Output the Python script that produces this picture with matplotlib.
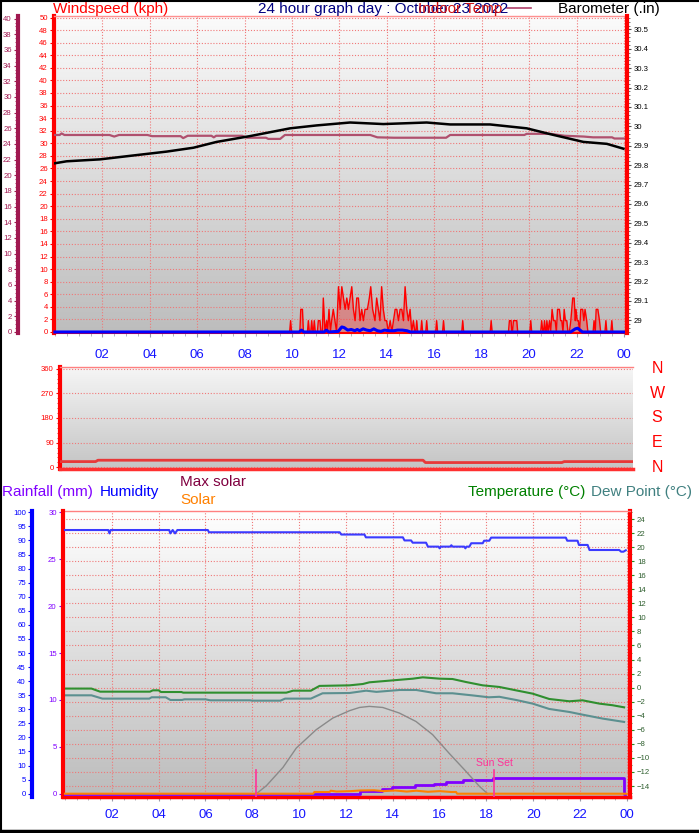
import numpy as np
import matplotlib
matplotlib.use('Agg')
import matplotlib.pyplot as plt
from matplotlib.lines import Line2D
from matplotlib.colors import LinearSegmentedColormap
from matplotlib.ticker import MultipleLocator

plt.rcParams['font.family'] = ['Liberation Sans', 'DejaVu Sans']

# ---------------- data ----------------
hour_ticks = [2, 4, 6, 8, 10, 12, 14, 16, 18, 20, 22, 24]
hour_labels = ['02', '04', '06', '08', '10', '12', '14', '16', '18', '20', '22', '00']

# wind gust (kph)
gust_h = [0, 9.90, 9.94, 9.98, 10.33, 10.37, 10.44, 10.48, 10.65, 10.69, 10.73, 10.79, 10.83, 10.87,
          10.90, 10.94, 10.98, 11.07, 11.11, 11.18, 11.22, 11.28, 11.32, 11.39, 11.46, 11.50, 11.56,
          11.62, 11.67, 11.74, 11.81, 11.88, 11.96, 12.03, 12.10, 12.17, 12.24, 12.31, 12.38, 12.45,
          12.52, 12.59, 12.66, 12.73, 12.80, 12.87, 12.94, 13.01, 13.08, 13.18, 13.26, 13.32, 13.40,
          13.50, 13.57, 13.64, 13.71, 13.78, 13.85, 13.92, 13.99, 14.06, 14.14, 14.21, 14.28, 14.35,
          14.42, 14.49, 14.56, 14.63, 14.70, 14.77, 14.84, 14.91, 14.98, 15.05, 15.12, 15.18, 15.22,
          15.26, 15.30, 15.43, 15.47, 15.51, 15.64, 15.68, 15.72, 16.06, 16.10, 16.14, 16.35, 16.39,
          16.43, 17.16, 17.20, 17.24, 18.36, 18.40, 18.44, 19.13, 19.17, 19.24, 19.27, 19.30, 19.34,
          19.41, 19.48, 19.52, 20.03, 20.07, 20.11, 20.49, 20.53, 20.58, 20.61, 20.65, 20.69, 20.72,
          20.75, 20.80, 20.86, 20.91, 20.97, 21.03, 21.10, 21.15, 21.20, 21.28, 21.33, 21.38, 21.43,
          21.48, 21.53, 21.59, 21.64, 21.70, 21.76, 21.84, 21.90, 21.95, 21.98, 22.03, 22.08, 22.13,
          22.18, 22.26, 22.31, 22.36, 22.43, 22.48, 22.70, 22.74, 22.79, 22.83, 22.90, 22.97, 23.02,
          23.20, 23.24, 23.28, 23.45, 23.49, 23.53, 24.05]
gust_kph = [0, 0, 1.8, 0, 0, 3.6, 3.6, 0, 0, 1.8, 0, 0, 1.8, 0,
            0, 1.8, 0, 0, 1.8, 1.8, 0, 0, 5.4, 0, 1.8, 0, 3.6,
            0, 1.8, 3.6, 1.8, 0, 7.2, 3.6, 7.2, 5.4, 3.6, 5.4, 3.6, 5.4,
            7.2, 3.6, 1.8, 5.4, 5.4, 1.8, 3.6, 1.8, 3.6, 3.6, 5.4, 7.2, 3.6,
            1.8, 5.4, 3.6, 1.8, 7.2, 3.6, 1.8, 1.8, 0, 1.8, 0, 1.8, 3.6,
            3.6, 1.8, 3.6, 3.6, 1.8, 7.2, 3.6, 1.8, 3.6, 0, 1.8, 0, 0,
            1.8, 0, 0, 1.8, 0, 0, 1.8, 0, 0, 1.8, 0, 0, 1.8,
            0, 0, 1.8, 0, 0, 1.8, 0, 0, 1.8, 1.8, 0, 0, 1.8,
            1.8, 1.8, 0, 0, 1.8, 0, 0, 1.8, 0, 0, 1.8, 0, 0,
            1.8, 0, 1.8, 0, 3.6, 1.8, 1.8, 0, 3.6, 3.6, 1.8, 1.8, 0,
            3.6, 1.8, 1.8, 0, 0, 1.8, 5.4, 5.4, 1.8, 3.6, 1.8, 1.8, 0,
            3.6, 3.6, 1.8, 3.6, 1.8, 0, 0, 1.8, 0, 3.6, 3.6, 1.8, 0,
            0, 1.8, 0, 0, 1.8, 0, 0]

# average wind (kph)
avg_h = [0, 10.30, 10.40, 10.50, 11.35, 11.45, 11.55, 11.95, 12.10, 12.20, 12.35, 12.50, 12.65,
         12.75, 12.85, 13.00, 13.15, 13.30, 13.45, 13.60, 13.75, 13.90, 14.10, 14.30, 14.45, 14.65,
         14.85, 15.00, 21.75, 21.95, 22.05, 22.25, 24.05]
avg_kph = [0, 0, 0.3, 0, 0, 0.3, 0, 0.1, 0.8, 0.7, 0.3, 0.4, 0.2,
           0.4, 0.2, 0.5, 0.3, 0.2, 0.5, 0.2, 0.1, 0.3, 0.2, 0.2, 0.3, 0.3,
           0.2, 0, 0, 0.5, 0.6, 0, 0]

# indoor temperature (deg C)
in_h = [0, 0.2, 0.28, 0.4, 2.3, 2.5, 2.7, 3.9, 4.1, 5.3, 5.41, 5.6, 6.6, 6.7, 6.8, 7.9, 8.1,
        8.9, 9.0, 9.5, 9.7, 12.45, 13.3, 13.6, 14.3, 16.5, 16.67, 19.8, 19.9, 20.9, 21.5, 22.3,
        22.7, 23.5, 23.6, 24.0]
in_temp = [25.15, 25.15, 25.35, 25.15, 25.15, 24.95, 25.15, 25.15, 25.0, 25.0, 24.75, 25.05, 25.05,
           24.85, 25.05, 25.05, 24.8, 24.8, 24.65, 24.65, 25.15, 25.15, 25.15, 24.85, 24.8, 24.8,
           25.15, 25.15, 25.3, 25.3, 25.05, 24.95, 24.85, 24.85, 24.7, 24.7]

# barometer (inHg)
baro_h = [0, 0.49, 1.9, 3.3, 4.71, 5.84, 6.82, 8.23, 9.92, 11.04, 12.45, 13.85, 15.68, 16.67,
          18.35, 19.9, 20.89, 22.29, 23.28, 23.98]
baro_in = [29.81, 29.82, 29.83, 29.85, 29.87, 29.89, 29.92, 29.95, 29.99, 30.005, 30.02, 30.012,
           30.02, 30.01, 30.01, 29.99, 29.96, 29.92, 29.91, 29.885]

# wind direction (deg)
wdir_h = [0, 1.45, 1.55, 15.25, 15.35, 21.1, 21.2, 24.1]
wdir_deg = [21, 21, 26, 26, 17.5, 17.5, 21, 21]
wdir_ticks = [0, 90, 180, 270, 360]
compass = ['N', 'E', 'S', 'W', 'N']

# humidity (%)
hum_h = [0, 1.85, 1.9, 1.95, 4.45, 4.5, 4.6, 4.7, 4.8, 6.1, 6.15, 11.73, 11.8, 12.79, 12.85,
         14.43, 14.5, 14.78, 14.85, 15.42, 15.5, 15.95, 16.0, 16.05, 16.45, 16.5, 16.55, 17.05,
         17.1, 17.15, 17.27, 17.35, 17.84, 17.9, 18.12, 18.2, 21.39, 21.45, 21.89, 21.95, 22.32,
         22.4, 23.67, 23.75, 23.85, 23.95]
humidity = [93.7, 93.7, 92.5, 93.7, 93.7, 92.5, 93.7, 92.5, 93.7, 93.7, 92.9, 92.9, 92.1, 92.1,
            91.1, 91.1, 90.0, 90.0, 89.2, 89.2, 87.8, 87.8, 87.2, 87.8, 87.8, 88.3, 87.8, 87.8,
            87.2, 87.8, 87.8, 89.0, 89.0, 89.9, 89.9, 91.0, 91.0, 89.9, 89.9, 88.4, 88.4,
            86.6, 86.6, 86.0, 86.0, 86.5]

# temperature / dew point (deg C)
temp_h = [0, 1.13, 1.5, 3.63, 3.75, 4.0, 4.1, 4.97, 5.05, 9.45, 9.6, 9.74, 10.5, 10.87, 12.15,
          12.72, 13.0, 13.86, 14.86, 15.28, 16.0, 16.55, 17.13, 17.84, 18.55, 19.26, 19.97, 20.68,
          21.54, 22.1, 22.82, 23.38, 23.88]
temp_c = [-0.13, -0.13, -0.57, -0.57, -0.38, -0.38, -0.62, -0.62, -0.71, -0.71, -0.57, -0.43,
          -0.43, 0.25, 0.33, 0.52, 0.76, 1.0, 1.28, 1.47, 1.28, 1.23, 0.8, 0.33, 0.1, -0.38, -0.85,
          -1.61, -1.94, -1.8, -2.27, -2.5, -2.8]
dew_h = [0, 1.13, 1.6, 3.6, 3.7, 4.3, 4.5, 5.0, 5.1, 6.0, 6.2, 7.9, 8.0, 9.2, 9.4, 10.5, 11.0,
         12.15, 12.86, 13.3, 14.3, 15.0, 15.85, 16.55, 17.4, 18.1, 18.55, 19.26, 19.97, 20.68,
         21.54, 22.1, 22.96, 23.88]
dew_c = [-1.09, -1.09, -1.56, -1.56, -1.37, -1.37, -1.75, -1.75, -1.66, -1.66, -1.8, -1.8, -1.85,
         -1.85, -1.56, -1.56, -0.8, -0.76, -0.43, -0.6, -0.33, -0.33, -0.8, -0.8, -1.1, -1.37,
         -1.3, -1.75, -2.27, -3.03, -3.46, -3.84, -4.4, -4.88]

# rainfall (mm, cumulative)
rain_h = [0, 12.58, 13.53, 13.97, 14.93, 15.74, 16.28, 16.99, 18.27, 23.88, 23.9]
rain_mm = [0, 0.25, 0.46, 0.71, 0.89, 1.06, 1.28, 1.45, 1.67, 0, 0]

# solar (W/m2)
maxsolar_h = [8.17, 8.6, 9.31, 9.88, 10.73, 11.44, 12.15, 12.58, 13.0, 13.57, 14.28, 14.99, 15.7,
              16.41, 17.13, 17.7, 18.05]
maxsolar_w = [0, 37, 122, 212, 297, 351, 385, 400, 405, 400, 374, 335, 274, 187, 103, 34, 0]
solar_h = [0, 10.6, 10.65, 11.3, 11.35, 11.6, 12.2, 12.6, 13.2, 13.6, 14.1, 14.6, 15.0, 15.5,
           16.0, 16.5, 16.7, 16.75, 24.0]
solar_w = [0, 0, 8, 8, 14, 10, 12, 15, 16, 12, 15, 10, 14, 9, 12, 8, 8, 0, 0]
sunrise_h = 8.14
sunset_h = 18.34

# ---------------- figure ----------------
W, H = 699, 833
PT = 72 / 100  # points per pixel at dpi 100
fig = plt.figure(figsize=(W / 100, H / 100), dpi=100)
fig.patch.set_facecolor('white')


def px_axes(l, t, r, b):
    return fig.add_axes([l / W, 1 - b / H, (r - l) / W, (b - t) / H])


def gradient_bg(ax, top, bottom):
    cmap = LinearSegmentedColormap.from_list('g', [bottom, top])
    grad = np.linspace(0, 1, 256).reshape(-1, 1)
    ax.imshow(grad, cmap=cmap, aspect='auto', extent=[0, 1, 0, 1],
              transform=ax.transAxes, origin='lower', zorder=0)


GRID = dict(color='#f07878', linestyle=(0, (1, 1.6)), linewidth=0.8)
SMALL = 5.6
RED = '#ff0000'
XLAB = '#1414ff'


def style_xaxis(ax, pad):
    ax.set_xticks(hour_ticks)
    ax.set_xticklabels(hour_labels)
    ax.xaxis.set_minor_locator(MultipleLocator(0.5))
    ax.tick_params(axis='x', which='major', length=3, color='#9a9aa8', pad=pad,
                   labelsize=9.5, labelcolor=XLAB)
    ax.tick_params(axis='x', which='minor', length=2, color='#a8a8b0')


# ---------- top panel ----------
ax1 = px_axes(54, 16, 627, 333)
gradient_bg(ax1, '#fbfbfb', '#bdbdbd')
ax_in = ax1.twinx()
ax_b = ax1.twinx()

ax1.yaxis.tick_left()
ax1.set_xlim(-0.04, 24.13)
ax1.set_ylim(-0.16, 50.24)
ax1.set_axisbelow(True)
ax1.set_yticks(range(0, 51, 2))
ax1.yaxis.set_minor_locator(MultipleLocator(1))
ax1.tick_params(axis='y', which='major', length=3, color=RED, labelsize=SMALL,
                labelcolor=RED, pad=1.5)
ax1.tick_params(axis='y', which='minor', length=1.5, color=RED)
style_xaxis(ax1, 8.5)
ax1.grid(True, which='major', **GRID)
ax1.spines['left'].set_color(RED)
ax1.spines['left'].set_linewidth(3)
ax1.spines['top'].set_color('#ff9090')
ax1.spines['top'].set_linewidth(1)
ax1.spines['bottom'].set_color(RED)
ax1.spines['bottom'].set_linewidth(1.5)
ax1.spines['right'].set_visible(False)

ax1.fill_between(gust_h, 0, gust_kph, color='#ff2020', alpha=0.35, lw=0, zorder=2)
ax1.plot(gust_h, gust_kph, color='#ff0000', lw=1.0, zorder=3)
ax1.plot(avg_h, avg_kph, color='#0000ff', lw=2.2, zorder=4, clip_on=False)

ax_in.set_ylim(-0.13, 40.34)
ax_in.yaxis.tick_left()
ax_in.spines['left'].set_position(('outward', 36 * PT))
ax_in.spines['left'].set_visible(True)
ax_in.spines['left'].set_color('#a01850')
ax_in.spines['left'].set_linewidth(3)
for s in ('right', 'top', 'bottom'):
    ax_in.spines[s].set_visible(False)
ax_in.set_yticks(range(0, 41, 2))
ax_in.yaxis.set_minor_locator(MultipleLocator(0.5))
ax_in.tick_params(axis='y', which='major', length=3, color='#a01850', labelsize=SMALL,
                  labelcolor='#a01850', pad=1.5)
ax_in.tick_params(axis='y', which='minor', length=2, color='#a01850')
ax_in.plot(in_h, in_temp, color='#b0506e', lw=1.6, zorder=3)

ax_b.yaxis.tick_right()
ax_b.set_ylim(28.935, 30.569)
baro_ticks = [29.0, 29.1, 29.2, 29.3, 29.4, 29.5, 29.6, 29.7, 29.8, 29.9, 30.0, 30.1, 30.2, 30.3,
              30.4, 30.5]
ax_b.set_yticks(baro_ticks)
ax_b.set_yticklabels([('%.1f' % v).rstrip('0').rstrip('.') for v in baro_ticks])
ax_b.yaxis.set_minor_locator(MultipleLocator(0.02))
ax_b.tick_params(axis='y', which='major', length=3, color='#505050', labelsize=SMALL,
                 labelcolor='black', pad=2)
ax_b.tick_params(axis='y', which='minor', length=2, color='#606060')
ax_b.spines['right'].set_color(RED)
ax_b.spines['right'].set_linewidth(3)
for s in ('left', 'top', 'bottom'):
    ax_b.spines[s].set_visible(False)
ax_b.plot(baro_h, baro_in, color='black', lw=1.8, zorder=3)

# top captions
fig.text(53 / W, 1 - 13 / H, 'Windspeed (kph)', color=RED, fontsize=11, va='baseline')
fig.text(258 / W, 1 - 13 / H, '24 hour graph day : October 23 2022', color='#000080',
         fontsize=11, va='baseline')
fig.text(418 / W, 1 - 13 / H, 'Indoor Temp', color='#d01010', fontsize=11, va='baseline')
fig.add_artist(Line2D([507 / W, 531 / W], [1 - 8 / H, 1 - 8 / H], color='#b0406a', lw=1.2))
fig.text(558 / W, 1 - 13 / H, 'Barometer (.in)', color='black', fontsize=11, va='baseline')

# ---------- middle panel ----------
ax2 = px_axes(60, 367, 633, 469)
gradient_bg(ax2, '#f6f6f6', '#c4c4c4')
ax2.set_xlim(-0.05, 24.1)
ax2.set_ylim(-6, 366)
ax2.set_axisbelow(True)
ax2.set_yticks(wdir_ticks)
ax2.yaxis.set_minor_locator(MultipleLocator(18))
ax2.tick_params(axis='y', which='major', length=3, color=RED, labelsize=SMALL,
                labelcolor=RED, pad=1.5)
ax2.tick_params(axis='y', which='minor', length=2, color=RED)
ax2.set_xticks([])
ax2.grid(True, axis='y', which='major', **GRID)
ax2.spines['left'].set_color(RED)
ax2.spines['left'].set_linewidth(3)
ax2.spines['top'].set_color('#ff8080')
ax2.spines['top'].set_linewidth(1)
ax2.spines['bottom'].set_color('#ff3030')
ax2.spines['bottom'].set_linewidth(2.5)
ax2.spines['right'].set_visible(False)
ax2.plot(wdir_h, wdir_deg, color='#e83838', lw=2, zorder=3)
for deg, lab in zip(wdir_ticks, compass):
    ax2.text(1 + 24 / 573, deg, lab, transform=ax2.get_yaxis_transform(), color=RED,
             fontsize=11.5, ha='center', va='center', clip_on=False)

# ---------- bottom panel ----------
ax3 = px_axes(63, 511, 630, 797)
gradient_bg(ax3, '#ffffff', '#bcbcbc')
ax_r = ax3.twinx()
ax_h = ax3.twinx()
ax_s = ax3.twinx()

ax3.yaxis.tick_right()
ax3.set_xlim(-0.085, 24.13)
ax3.set_ylim(-15.56, 25.14)
ax3.set_axisbelow(True)
ax3.set_yticks(range(-14, 25, 2))
ax3.yaxis.set_minor_locator(MultipleLocator(1))
ax3.tick_params(axis='y', which='major', length=3, color='#209020', labelsize=SMALL,
                labelcolor='#306030', pad=2)
ax3.tick_params(axis='y', which='minor', length=1.5, color='#209020')
style_xaxis(ax3, 6)
ax3.grid(True, which='major', **GRID)
ax3.spines['right'].set_color(RED)
ax3.spines['right'].set_linewidth(3)
ax3.spines['bottom'].set_color(RED)
ax3.spines['bottom'].set_linewidth(2.5)
ax3.spines['top'].set_color('#ff8080')
ax3.spines['top'].set_linewidth(1)
ax3.spines['left'].set_visible(False)
ax3.plot(temp_h, temp_c, color='#2f8f2f', lw=1.5, zorder=3)
ax3.plot(dew_h, dew_c, color='#5c9090', lw=1.5, zorder=3)

ax_r.yaxis.tick_left()
ax_r.set_ylim(-0.35, 30.14)
ax_r.set_yticks(range(0, 31, 5))
ax_r.yaxis.set_minor_locator(MultipleLocator(1))
ax_r.tick_params(axis='y', which='major', length=3, color='#8000ff', labelsize=SMALL,
                 labelcolor='#8000ff', pad=1.5)
ax_r.tick_params(axis='y', which='minor', length=1.5, color='#8000ff')
ax_r.spines['left'].set_visible(True)
ax_r.spines['left'].set_color(RED)
ax_r.spines['left'].set_linewidth(3)
for s in ('right', 'top', 'bottom'):
    ax_r.spines[s].set_visible(False)
ax_r.plot(rain_h, rain_mm, color='#8000ff', lw=2, drawstyle='steps-post', zorder=3)

ax_h.yaxis.tick_left()
ax_h.set_ylim(-1.17, 100.46)
ax_h.spines['left'].set_position(('outward', 31 * PT))
ax_h.spines['left'].set_visible(True)
ax_h.spines['left'].set_color('#0000ff')
ax_h.spines['left'].set_linewidth(3)
for s in ('right', 'top', 'bottom'):
    ax_h.spines[s].set_visible(False)
ax_h.set_yticks(range(0, 101, 5))
ax_h.yaxis.set_minor_locator(MultipleLocator(1))
ax_h.tick_params(axis='y', which='major', length=3, color='#0000ff', labelsize=SMALL,
                 labelcolor='#0000ff', pad=1.5)
ax_h.tick_params(axis='y', which='minor', length=1.5, color='#0000ff')
ax_h.plot(hum_h, humidity, color='#3a3aff', lw=1.5, zorder=3)

ax_s.set_ylim(-15.2, 1311)
ax_s.set_yticks([])
for s in ax_s.spines.values():
    s.set_visible(False)
ax_s.plot(maxsolar_h, maxsolar_w, color='#8a8a8a', lw=1.0, zorder=3)
ax_s.plot(solar_h, solar_w, color='#ff8000', lw=1.5, zorder=4)
for sh in (sunrise_h, sunset_h):
    ax_s.axvline(sh, ymin=0, ymax=0.095, color='#ff3399', lw=1.2, zorder=5)
ax_s.text(sunset_h, 0.1, 'Sun Set', transform=ax_s.get_xaxis_transform(),
          color='#ff3399', fontsize=7.5, ha='center', va='bottom')

# bottom captions
fig.text(2 / W, 1 - 496 / H, 'Rainfall (mm)', color='#8000ff', fontsize=11, va='baseline')
fig.text(100 / W, 1 - 496 / H, 'Humidity', color='#0000ff', fontsize=11, va='baseline')
fig.text(180 / W, 1 - 486 / H, 'Max solar', color='#800040', fontsize=11, va='baseline')
fig.text(180 / W, 1 - 504 / H, 'Solar', color='#ff8000', fontsize=11, va='baseline')
fig.text(468 / W, 1 - 496 / H, 'Temperature (\u00b0C)', color='#008000', fontsize=11,
         va='baseline')
fig.text(591 / W, 1 - 496 / H, 'Dew Point (\u00b0C)', color='#408080', fontsize=11,
         va='baseline')

# outer frame lines
fig.add_artist(Line2D([0.7 / W, 0.7 / W], [0, 1], color='black', lw=1.5))
fig.add_artist(Line2D([0, 1], [1 - 0.7 / H, 1 - 0.7 / H], color='black', lw=1.5))
fig.add_artist(Line2D([0, 1], [1 - 831 / H, 1 - 831 / H], color='black', lw=2.5))

fig.savefig('out.png', dpi=100)
